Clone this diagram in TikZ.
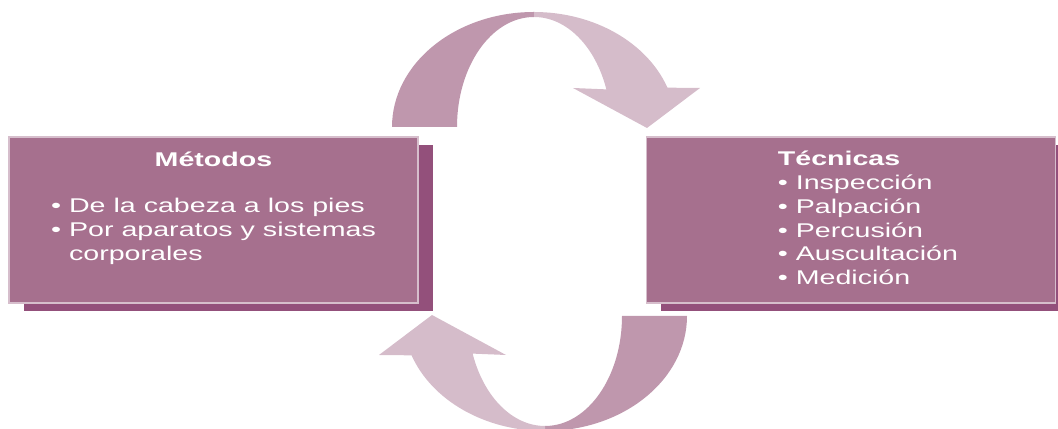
\documentclass[tikz,border=0pt]{standalone}
\usepackage{fontspec}
\setmainfont{Liberation Sans}[FakeStretch=1.44]
\usepackage{xcolor}
\definecolor{plum}{RGB}{166,112,142}
\definecolor{plumdark}{RGB}{147,80,123}
\definecolor{plumedge}{RGB}{214,190,204}
\definecolor{arcdark}{RGB}{191,151,173}
\definecolor{arclight}{RGB}{213,188,202}
\usetikzlibrary{positioning, shadows}

\tikzset{
  halfcycle/.pic={
    \fill[arcdark] (-2.84,0) arc[start angle=180, end angle=90, x radius=2.84, y radius=2.30]
      -- (0,2.20) arc[start angle=90, end angle=180, x radius=1.54, y radius=2.20] -- cycle;
    \fill[arclight] (0,2.30) arc[start angle=90, end angle=20, x radius=2.84, y radius=2.30]
      -- (3.32,0.78) -- (2.26,-0.02) -- (0.78,0.78) -- (20:1.54 and 2.20)
      arc[start angle=20, end angle=90, x radius=1.54, y radius=2.20] -- cycle;
  }
}

\begin{document}
\begin{tikzpicture}[
  node distance=1cm and 4.54cm,
  card/.style={draw=plumedge, line width=0.6pt, fill=plum,
               minimum width=8.18cm, minimum height=3.32cm,
               drop shadow={shadow xshift=0.3cm, shadow yshift=-0.16cm, opacity=1, fill=plumdark}},
  cardtext/.style={text=white, inner sep=0pt, font=\fontsize{11.3}{13.6}\selectfont},
]
  \useasboundingbox (0,0) rectangle (21.16,8.58);

  \node[card] (metodos) at (4.27,4.18) {};
  \node[card, right=of metodos] (tecnicas) {};

  \node[cardtext, align=center, anchor=north] (metodoslist) at ([yshift=-0.3cm]metodos.north)
    {\textbf{Métodos}\\[12.6pt]
     \begin{tabular}[t]{@{}l@{}}
       • De la cabeza a los pies\\
       • Por aparatos y sistemas\\
       \hphantom{•}\ corporales
     \end{tabular}};
  \node[cardtext, align=left, anchor=north west] (tecnicaslist)
    at ([xshift=2.64cm, yshift=-0.28cm]tecnicas.north west)
    {\textbf{Técnicas}\\• Inspección\\• Palpación\\• Percusión\\• Auscultación\\• Medición};

  % cycle arrows
  \coordinate (topturn) at (10.68,6.04);
  \coordinate (bottomturn) at (10.90,2.26);
  \pic at (topturn) {halfcycle};
  \pic[rotate=180] at (bottomturn) {halfcycle};
\end{tikzpicture}
\end{document}
